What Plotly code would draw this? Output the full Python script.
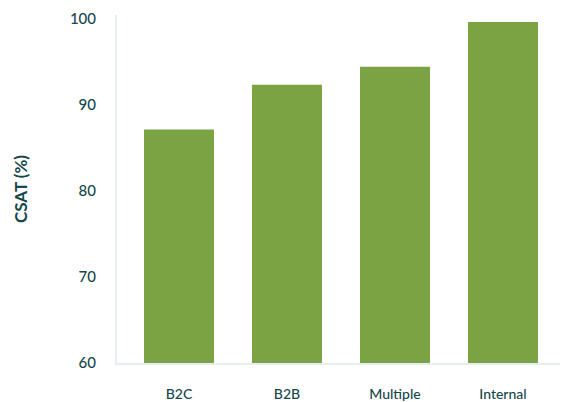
import plotly.graph_objects as go

categories = ["B2C", "B2B", "Multiple", "Internal"]
csat = [87.1, 92.3, 94.4, 99.6]
y_ticks = [60, 70, 80, 90, 100]

text_color = "#16474b"
bar_color = "#7ba243"
axis_color = "#e6edf3"

fig = go.Figure(go.Bar(
    x=categories, y=csat, marker_color=bar_color, marker_line_width=0, width=0.648,
    hoverinfo="skip",
))

fig.update_layout(
    width=563, height=402,
    margin=dict(l=117, r=3, t=15, b=39, autoexpand=False),
    paper_bgcolor="white", plot_bgcolor="white",
    font=dict(family="Lato, Open Sans, sans-serif", color=text_color, size=14),
    showlegend=False,
)
fig.update_xaxes(
    range=[-0.574, 3.528], showline=True, linecolor=axis_color, linewidth=2,
    showgrid=False, ticks="", ticklabelstandoff=17, automargin=False,
    tickfont=dict(size=14, color=text_color, weight=500),
)
fig.update_yaxes(
    range=[60, 100.4], tickvals=y_ticks, showline=True, linecolor=axis_color, linewidth=2,
    showgrid=False, ticks="", ticklabelstandoff=16, zeroline=False, automargin=False,
    tickfont=dict(size=15, color=text_color, weight=500),
)
fig.add_annotation(
    text="<b>CSAT (%)</b>", xref="paper", yref="paper",
    x=(20 - 117) / 443, y=0.5, textangle=-90, showarrow=False,
    xanchor="center", yanchor="middle",
    font=dict(size=17, color=text_color),
)

fig.write_html("out.html", config={"displayModeBar": False},
               post_script="document.body.style.margin='0';")
